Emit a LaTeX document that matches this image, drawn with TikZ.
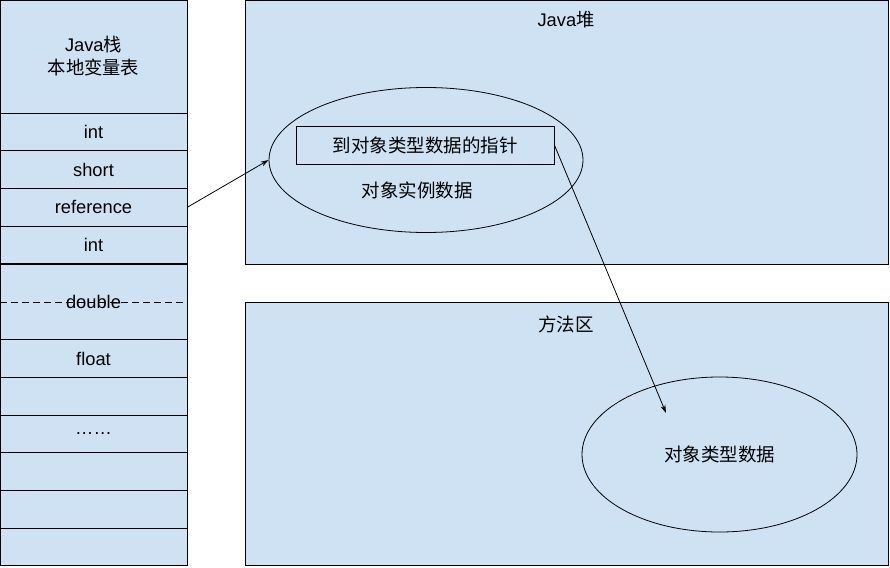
\documentclass[tikz,border=0pt]{standalone}
\usepackage{fontspec}
\setmainfont{Liberation Sans}
\newfontfamily\cjk{Noto Sans CJK SC}
\usetikzlibrary{shapes.geometric}
\usetikzlibrary{arrows.meta}
\definecolor{areablue}{HTML}{CFE2F3}
\tikzset{
  cell/.style={rectangle,draw=black,fill=areablue,line width=0.9pt,minimum width=187pt,minimum height=37.67pt,inner sep=0pt,font=\fontsize{18.3}{22}\selectfont},
  area/.style={draw=black,fill=areablue,line width=0.9pt},
  label/.style={font=\fontsize{18.5}{22}\selectfont\cjk,inner sep=0pt},
  link/.style={line width=0.8pt,-{Stealth[length=8pt,width=5pt]}}
}
\begin{document}
\begin{tikzpicture}[x=1pt,y=-1pt]
\useasboundingbox (0,0) rectangle (890,567);
\fill[white] (0,0) rectangle (890,567);

% Java stack / local variables
\node[cell,minimum height=113pt,align=center] (head) at (93.5,56.5) {Java{\cjk 栈}\\[1pt]{\cjk 本地变量表}};
\node[cell] (int1) at (93.5,131.8) {int};
\node[cell] (short) at (93.5,169.5) {short};
\node[cell] (ref) at (93.5,207.2) {reference};
\node[cell] (int2) at (93.5,244.8) {int};
\node[cell,minimum height=75.33pt] (dbl) at (93.5,302) {};
\draw[line width=0.8pt,dash pattern=on 7pt off 4pt] (dbl.west) -- (dbl.east);
\node[font=\fontsize{18.3}{22}\selectfont] (dbltxt) at (dbl.center) {double};
\node[cell] (flt) at (93.5,358.7) {float};
\node[cell] (e1) at (93.5,396.3) {};
\node[cell] (dots) at (93.5,434) {……};
\node[cell] (e2) at (93.5,471.7) {};
\node[cell] (e3) at (93.5,509.3) {};
\node[cell] (e4) at (93.5,547) {};

% Java heap
\draw[area] (245,0.5) rectangle (888,264);
\node[font=\fontsize{18.3}{22}\selectfont] (heap) at (566,20) {Java{\cjk 堆}};
\node[ellipse,draw=black,line width=0.8pt,minimum width=314pt,minimum height=145pt,inner sep=0pt] (obj) at (426,160) {};
\node[rectangle,draw=black,line width=0.8pt,minimum width=258pt,minimum height=38pt,inner sep=0pt,label] (ptr) at (425,145) {到对象类型数据的指针};
\node[label] (objtxt) at (417,190) {对象实例数据};

% method area
\draw[area] (245,302) rectangle (888,565.5);
\node[label] (method) at (566,324) {方法区};
\node[ellipse,draw=black,line width=0.8pt,minimum width=275pt,minimum height=155pt,inner sep=0pt,label] (cls) at (719.5,454.5) {对象类型数据};
\coordinate (clstip) at (666,413);

\draw[link] (ref.east) -- (obj.west);
\draw[link] (ptr.east) -- (clstip);

\end{tikzpicture}
\end{document}
